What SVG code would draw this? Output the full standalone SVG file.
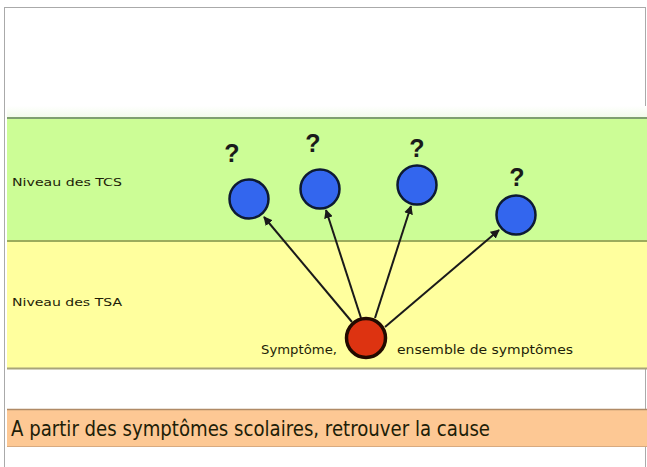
<svg xmlns="http://www.w3.org/2000/svg" width="647" height="467" viewBox="0 0 647 467">
<style>
.lbl{font-family:"DejaVu Sans","Liberation Sans",sans-serif;fill:#1e1e08;}
.small{font-size:10.5px;}
.sym{font-size:11.5px;}
.q{font-family:"Liberation Sans","DejaVu Sans",sans-serif;font-size:25px;font-weight:bold;fill:#1a1a1a;text-anchor:middle;}
.blue{fill:#3366ee;stroke:#0d1a33;stroke-width:2.5;}
.red{fill:#dd3311;stroke:#220a00;stroke-width:3.5;}
.conn{stroke:#1a1a1a;stroke-width:2;fill:none;marker-end:url(#ah);}
</style>
<defs>
<marker id="ah" viewBox="0 0 10 10" refX="9" refY="5" markerWidth="4.5" markerHeight="4.5" orient="auto" markerUnits="strokeWidth">
<path d="M0,0 L10,5 L0,10 z" fill="#1a1a1a"/>
</marker>
<linearGradient id="fade" x1="0" y1="0" x2="0" y2="1">
<stop offset="0" stop-color="#ffffff"/>
<stop offset="1" stop-color="#f2fbea"/>
</linearGradient>
</defs>
<rect width="647" height="467" fill="#ffffff"/>
<g id="background">
<rect x="4.5" y="7.5" width="641" height="470" fill="none" stroke="#555" stroke-width="1" stroke-dasharray="1,1"/>
<rect x="7" y="106" width="640" height="11" fill="url(#fade)"/>
<rect x="7" y="118" width="640" height="123" fill="#ccfd96"/>
<line x1="7" y1="118" x2="647" y2="118" stroke="#7f9f70" stroke-width="2"/>
<rect x="7" y="241" width="640" height="127" fill="#ffff9e"/>
<line x1="7" y1="241" x2="647" y2="241" stroke="#9cac5c" stroke-width="2"/>
<line x1="7" y1="368.5" x2="647" y2="368.5" stroke="#a8a47a" stroke-width="2"/>
<rect x="7" y="409" width="640" height="38" fill="#fdc894"/>
<line x1="7" y1="409.5" x2="647" y2="409.5" stroke="#b08a66" stroke-width="1.5"/>
<line x1="7" y1="446.5" x2="647" y2="446.5" stroke="#d8aa80" stroke-width="1"/>
<text class="lbl small" x="12" y="186" textLength="110" lengthAdjust="spacingAndGlyphs">Niveau des TCS</text>
<text class="lbl small" x="12" y="306" textLength="110" lengthAdjust="spacingAndGlyphs">Niveau des TSA</text>
<text class="lbl" x="11" y="436" font-size="21" fill="#2a1a0a" textLength="479" lengthAdjust="spacingAndGlyphs">A partir des symptômes scolaires, retrouver la cause</text>
</g>
<g id="connectors">
<line class="conn" x1="352" y1="322" x2="264" y2="217"/>
<line class="conn" x1="361" y1="318" x2="326" y2="210"/>
<line class="conn" x1="375" y1="318" x2="411" y2="206"/>
<line class="conn" x1="385" y1="327" x2="499" y2="230"/>
</g>
<g id="node-tcs1">
<circle class="blue" cx="249" cy="199" r="19.5"/>
<text class="q" x="232" y="162">?</text>
</g>
<g id="node-tcs2">
<circle class="blue" cx="320" cy="189" r="19.5"/>
<text class="q" x="313" y="152">?</text>
</g>
<g id="node-tcs3">
<circle class="blue" cx="417" cy="185" r="19.5"/>
<text class="q" x="417" y="157">?</text>
</g>
<g id="node-tcs4">
<circle class="blue" cx="516" cy="215" r="19.5"/>
<text class="q" x="517" y="186">?</text>
</g>
<g id="node-symptome">
<circle class="red" cx="366" cy="338" r="19.5"/>
<text class="lbl sym" x="261" y="354" textLength="76" lengthAdjust="spacingAndGlyphs">Symptôme,</text>
<text class="lbl sym" x="397" y="354" textLength="176" lengthAdjust="spacingAndGlyphs">ensemble de symptômes</text>
</g>
</svg>
